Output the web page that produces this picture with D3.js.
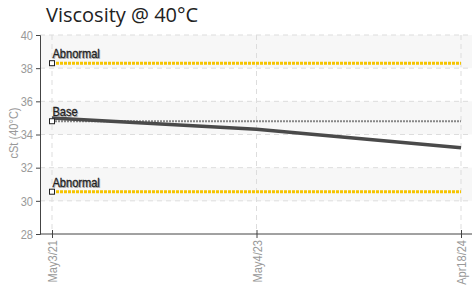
<!DOCTYPE html>
<html>
<head>
<meta charset="utf-8">
<script src="https://cdn.jsdelivr.net/npm/d3@7"></script>
<style>
  body { margin: 0; background: #fff; }
  svg { display: block; }
  .tick text, .narrow { font-family: "Liberation Sans", Arial, sans-serif; }
</style>
</head>
<body>
<div class="container"></div>
<script>
// chart data
const dates = ["May3/21", "May4/23", "Apr18/24"];
const viscosity = [35.0, 34.32, 33.2];
const baseValue = 34.8;
const abnormalHigh = 38.3;
const abnormalLow = 30.55;
const yTicks = [28, 30, 32, 34, 36, 38, 40];

const refLines = [
    {label: "Abnormal", value: abnormalHigh, color: "#f5c400", dash: "3,1", width: 3},
    {label: "Base", value: baseValue, color: "#888", dash: "2,1", width: 2},
    {label: "Abnormal", value: abnormalLow, color: "#f5c400", dash: "3,1", width: 3}
];

const W = 472, H = 294;
const margin = {top: 35, right: 0, bottom: 60, left: 40};
const width = W - margin.left - margin.right,
    height = H - margin.top - margin.bottom;

//squeeze text horizontally to fake a condensed face
function condense(sel, k) {
    sel.each(function() {
        const len = this.getComputedTextLength();
        d3.select(this).attr("textLength", len * k).attr("lengthAdjust", "spacingAndGlyphs");
    });
}

const svg = d3.select("div.container").append("svg")
    .attr("width", W)
    .attr("height", H);

//title
svg.append("text")
    .attr("x", 46)
    .attr("y", 22)
    .style("font-family", "'Open Sans', sans-serif")
    .style("font-size", "20px")
    .attr("fill", "#222")
    .text("Viscosity @ 40°C");

const g = svg.append("g")
    .attr("transform", `translate(${margin.left},${margin.top})`);

const x = d3.scalePoint().domain(dates).range([12, 421]);
const y = d3.scaleLinear().domain([28, 40]).range([height, 0]);

//alternating bands
const bands = [[38, 40], [34, 36], [30, 32]];
g.selectAll("rect.band")
    .data(bands)
    .enter()
    .append("rect")
    .attr("class", "band")
    .attr("x", 0)
    .attr("width", width)
    .attr("y", d => y(d[1]))
    .attr("height", d => y(d[0]) - y(d[1]))
    .attr("fill", "#f7f7f7");

//grid lines
g.selectAll("line.hgrid")
    .data(yTicks.slice(1))
    .enter()
    .append("line")
    .attr("class", "hgrid")
    .attr("x1", 0).attr("x2", width)
    .attr("y1", d => y(d)).attr("y2", d => y(d))
    .attr("stroke", "#ddd")
    .attr("stroke-dasharray", "5,4");

g.selectAll("line.vgrid")
    .data(dates)
    .enter()
    .append("line")
    .attr("class", "vgrid")
    .attr("x1", d => x(d)).attr("x2", d => x(d))
    .attr("y1", 0).attr("y2", height)
    .attr("stroke", "#ddd")
    .attr("stroke-dasharray", "5,4");

//axes
const yAxis = g.append("g")
    .call(d3.axisLeft(y).tickValues(yTicks).tickSize(4).tickPadding(3));
yAxis.select(".domain").attr("stroke", "#444");
yAxis.selectAll(".tick line").attr("stroke", "#444");
yAxis.selectAll(".tick text").attr("fill", "#999").style("font-size", "13px")
    .call(condense, 0.85);

const xAxis = g.append("g")
    .attr("transform", `translate(0,${height})`)
    .call(d3.axisBottom(x).tickSize(4).tickPadding(4));
xAxis.select(".domain").attr("stroke", "#444").attr("d", `M0,0H${width}`);
xAxis.selectAll(".tick line").attr("stroke", "#444").attr("y1", -4);
xAxis.selectAll(".tick text")
    .attr("fill", "#999")
    .style("font-size", "13px")
    .attr("text-anchor", "end")
    .attr("transform", "rotate(-90)")
    .attr("x", -6)
    .attr("y", 0)
    .attr("dy", "0.35em")
    .call(condense, 0.85);

//y axis title
svg.append("text")
    .attr("class", "narrow")
    .attr("transform", `translate(18,133) rotate(-90)`)
    .attr("text-anchor", "middle")
    .style("font-size", "13px")
    .attr("fill", "#999")
    .text("cSt (40°C)")
    .call(condense, 0.85);

//reference lines
refLines.forEach(r => {
    g.append("line")
        .attr("x1", x(dates[0])).attr("x2", x(dates[dates.length - 1]))
        .attr("y1", y(r.value)).attr("y2", y(r.value))
        .attr("stroke", r.color)
        .attr("stroke-width", r.width)
        .attr("stroke-dasharray", r.dash);
});

//main series
const line = d3.line().x((d, i) => x(dates[i])).y(d => y(d));
g.append("path")
    .datum(viscosity)
    .attr("fill", "none")
    .attr("stroke", "#4a4a4a")
    .attr("stroke-width", 3.5)
    .attr("d", line);

//markers + labels on reference lines
refLines.forEach(r => {
    g.append("rect")
        .attr("x", x(dates[0]) - 2.5).attr("y", y(r.value) - 2.5)
        .attr("width", 5).attr("height", 5)
        .attr("fill", "#fff")
        .attr("stroke", "#222");
    g.append("text")
        .attr("x", x(dates[0]) + 1.5)
        .attr("y", y(r.value) - 4)
        .attr("fill", "#aaa")
        .style("font-family", "'Liberation Sans', sans-serif")
        .style("font-size", "13px")
        .text(r.label)
        .call(condense, 0.85);
    g.append("text")
        .attr("x", x(dates[0]) + 0.5)
        .attr("y", y(r.value) - 5)
        .style("font-family", "'Liberation Sans', sans-serif")
        .style("font-size", "13px")
        .attr("fill", "#222")
        .attr("stroke", "#222")
        .attr("stroke-width", 0.3)
        .text(r.label)
        .call(condense, 0.85);
});
</script>
</body>
</html>
